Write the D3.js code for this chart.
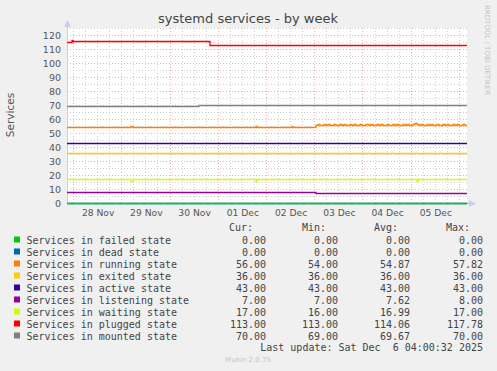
<!DOCTYPE html>
<html>
<head>
<meta charset="utf-8">
<script src="https://cdn.jsdelivr.net/npm/d3@7"></script>
<style>
  body { margin: 0; background: #f0f0f0; }
  svg { display: block; }
</style>
</head>
<body>
<div class="d3"></div>
<script>
// series as [time, value] change points (drawn as step lines)
const failed = [["2025-11-27T21:00", 0], ["2025-12-06T04:00", 0]];
const dead = [["2025-11-27T21:00", 0], ["2025-12-06T04:00", 0]];
const runningEarly = [
  ["2025-11-27T21:00", 54], ["2025-11-29T05:00", 55], ["2025-11-29T05:40", 54],
  ["2025-12-01T19:00", 55], ["2025-12-01T19:40", 54], ["2025-12-02T13:00", 55], ["2025-12-02T13:40", 54]
];
// hourly samples from 2025-12-03 01:00 on
const runningLateStart = "2025-12-03T01:00";
const runningLate = [
  56, 56.5, 56, 56, 56.5, 56, 56.5, 56, 56, 56.5, 56, 56, 56.5, 56, 56.5, 56, 56, 56.5, 56, 56.5,
  56, 56, 56.5, 56, 56, 56.5, 56, 56.5, 56, 56, 56.5, 56, 56.5, 56, 56, 56.5, 56, 56, 56.5, 56,
  56.5, 56, 56, 56.5, 56, 56.5, 56, 56, 56.5, 57.4, 56.5, 56, 56.5, 56, 56, 56.5, 56, 56.5, 56, 56,
  56.5, 56, 56, 56.5, 56, 56.5, 56, 56, 56.5, 56, 56.5, 56, 56, 56.5, 56, 56
];
const exited = [["2025-11-27T21:00", 36], ["2025-12-06T04:00", 36]];
const active = [["2025-11-27T21:00", 43], ["2025-12-06T04:00", 43]];
const listening = [["2025-11-27T21:00", 8], ["2025-12-03T01:00", 7], ["2025-12-06T04:00", 7]];
const waiting = [
  ["2025-11-27T21:00", 17], ["2025-11-29T05:00", 16], ["2025-11-29T05:40", 17],
  ["2025-12-01T19:00", 16], ["2025-12-01T19:40", 17],
  ["2025-12-05T03:00", 16], ["2025-12-05T03:40", 17], ["2025-12-06T04:00", 17]
];
const plugged = [
  ["2025-11-27T21:00", 115], ["2025-11-27T23:40", 116.5], ["2025-11-28T00:10", 116],
  ["2025-11-30T20:00", 113], ["2025-12-06T04:00", 113]
];
const mounted = [["2025-11-27T21:00", 69], ["2025-11-30T14:30", 70], ["2025-12-06T04:00", 70]];

const seriesNames = ["Services in failed state", "Services in dead state", "Services in running state",
  "Services in exited state", "Services in active state", "Services in listening state",
  "Services in waiting state", "Services in plugged state", "Services in mounted state"];
const colors = ["#00cc00", "#0066b3", "#ff8000", "#ffcc00", "#330099", "#990099", "#ccff00", "#ff0000", "#808080"];
const curVals = ["0.00", "0.00", "56.00", "36.00", "43.00", "7.00", "17.00", "113.00", "70.00"];
const minVals = ["0.00", "0.00", "54.00", "36.00", "43.00", "7.00", "16.00", "113.00", "69.00"];
const avgVals = ["0.00", "0.00", "54.87", "36.00", "43.00", "7.62", "16.99", "114.06", "69.67"];
const maxVals = ["0.00", "0.00", "57.82", "36.00", "43.00", "8.00", "17.00", "117.78", "70.00"];
const yTicks = [0, 10, 20, 30, 40, 50, 60, 70, 80, 90, 100, 110, 120];

const width = 497, height = 371;
const parse = d3.timeParse("%Y-%m-%dT%H:%M");
const fmt = d3.timeFormat("%Y-%m-%dT%H:%M");

const running = runningEarly.concat(
  runningLate.map((v, i) => [fmt(d3.timeHour.offset(parse(runningLateStart), i)), v])
);
const seriesData = [dead, failed, running, exited, active, listening, waiting, plugged, mounted];
const drawColors = [colors[1], colors[0]].concat(colors.slice(2));

const svg = d3.select(".d3").append("svg").attr("width", width).attr("height", height);

const x = d3.scaleTime()
  .domain([parse("2025-11-27T21:00"), parse("2025-12-06T04:00")])
  .range([67, 467]);
const y = d3.scaleLinear().domain([0, 125]).range([203, 28]);

// plot background
svg.append("rect").attr("x", 67).attr("y", 28).attr("width", 400).attr("height", 175).attr("fill", "#ffffff");

const grid = svg.append("g").attr("shape-rendering", "crispEdges");
const hLine = (v, c) => grid.append("line").attr("x1", 67).attr("x2", 467)
  .attr("y1", Math.round(y(v)) + 0.5).attr("y2", Math.round(y(v)) + 0.5)
  .attr("stroke", c).attr("stroke-dasharray", "1,2");
const vLine = (t, c) => grid.append("line")
  .attr("x1", Math.round(x(t)) + 0.5).attr("x2", Math.round(x(t)) + 0.5).attr("y1", 28).attr("y2", 203)
  .attr("stroke", c).attr("stroke-dasharray", "1,2");
d3.range(5, 126, 10).forEach(v => hLine(v, "#d0d0d0"));
x.ticks(d3.timeHour.every(6)).forEach(t => { if (t.getHours() !== 0) vLine(t, "#d0d0d0"); });
yTicks.forEach(v => { if (v !== 0) hLine(v, "#eeb0b0"); });
x.ticks(d3.timeDay.every(1)).forEach(t => vLine(t, "#eeb0b0"));

// axes
svg.append("line").attr("x1", 67).attr("x2", 470).attr("y1", 203.5).attr("y2", 203.5).attr("stroke", "#aaa");
svg.append("line").attr("x1", 67.5).attr("x2", 67.5).attr("y1", 25).attr("y2", 204).attr("stroke", "#ccccf0");
svg.append("path").attr("d", "M64,27 L71,27 L67.5,20 Z").attr("fill", "#ccccf0");
svg.append("path").attr("d", "M469,200 L469,207 L476,203.5 Z").attr("fill", "#ccccf0");

// y tick labels
svg.append("g").selectAll("text").data(yTicks).join("text")
  .attr("x", 61).attr("y", d => y(d) + 3.5).attr("text-anchor", "end")
  .attr("font-family", "DejaVu Sans").attr("font-size", "9.5px").attr("fill", "#555")
  .text(d => d);

// x labels at noon
const days = d3.timeDay.range(parse("2025-11-28T00:00"), parse("2025-12-06T00:00"));
svg.append("g").selectAll("text").data(days).join("text")
  .attr("x", d => x(d3.timeHour.offset(d, 12)) + 1).attr("y", 215.5).attr("text-anchor", "middle")
  .attr("font-family", "DejaVu Sans").attr("font-size", "9.2px").attr("fill", "#555")
  .text(d => d3.timeFormat("%d %b")(d));

// lines
const line = d3.line()
  .x(d => Math.round(x(parse(d[0]))))
  .y(d => Math.round(y(d[1])) + 0.5)
  .curve(d3.curveStepAfter);
seriesData.forEach((s, i) => {
  svg.append("path").datum(s).attr("d", line).attr("fill", "none")
    .attr("stroke", drawColors[i]).attr("stroke-width", 1.3);
});
// x axis dashes drawn over the zero line
svg.append("line").attr("x1", 67).attr("x2", 467).attr("y1", 203.5).attr("y2", 203.5)
  .attr("stroke", "#888").attr("stroke-dasharray", "2,6").attr("shape-rendering", "crispEdges");

// title and labels
svg.append("text").attr("x", 248).attr("y", 23).attr("text-anchor", "middle")
  .attr("font-family", "DejaVu Sans").attr("font-size", "13px").attr("fill", "#444")
  .text("systemd services - by week");
svg.append("text").attr("transform", "translate(14,115) rotate(-90)").attr("text-anchor", "middle")
  .attr("font-family", "DejaVu Sans").attr("font-size", "10.5px").attr("fill", "#555")
  .text("Services");
svg.append("text").attr("transform", "translate(485,5) rotate(90)").attr("text-anchor", "start")
  .attr("font-family", "DejaVu Sans").attr("font-size", "7px").attr("fill", "#c4c4c4")
  .text("RRDTOOL / TOBI OETIKER");

// legend
const mono = "DejaVu Sans Mono";
const hdr = [["Cur:", 253], ["Min:", 326], ["Avg:", 398], ["Max:", 470]];
hdr.forEach(h => {
  svg.append("text").attr("x", h[1]).attr("y", 231).attr("text-anchor", "end")
    .attr("font-family", mono).attr("font-size", "10px").attr("fill", "#444").text(h[0]);
});
const leg = svg.append("g");
seriesNames.forEach((n, i) => {
  const ry = 243.5 + i * 12;
  leg.append("rect").attr("x", 14).attr("y", ry - 7).attr("width", 6).attr("height", 6).attr("fill", colors[i]);
  leg.append("text").attr("x", 26.5).attr("y", ry).attr("font-family", mono).attr("font-size", "10px")
    .attr("fill", "#444").text(n);
  [[curVals, 266], [minVals, 338], [avgVals, 410], [maxVals, 483]].forEach(c => {
    leg.append("text").attr("x", c[1]).attr("y", ry).attr("text-anchor", "end")
      .attr("font-family", mono).attr("font-size", "10px").attr("fill", "#444").text(c[0][i]);
  });
});
svg.append("text").attr("x", 483).attr("y", 351).attr("text-anchor", "end")
  .style("white-space", "pre")
  .attr("font-family", mono).attr("font-size", "10px").attr("fill", "#444")
  .text("Last update: Sat Dec  6 04:00:32 2025");
svg.append("text").attr("x", 248).attr("y", 362).attr("text-anchor", "middle")
  .attr("font-family", "DejaVu Sans").attr("font-size", "7px").attr("fill", "#c4c4c4")
  .text("Munin 2.0.75");
</script>
</body>
</html>
